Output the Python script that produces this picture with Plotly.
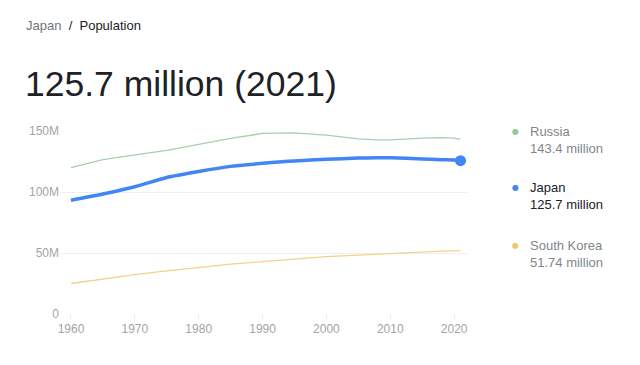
import plotly.graph_objects as go

years = [1960, 1965, 1970, 1975, 1980, 1985, 1990, 1993, 1995, 2000, 2005, 2008, 2010, 2015, 2018, 2020, 2021]
russia = [119.9, 126.5, 130.4, 134.2, 139.0, 143.9, 148.0, 148.5, 148.4, 146.6, 143.5, 142.7, 142.8, 144.1, 144.5, 144.1, 143.4]
japan = [93.2, 98.3, 104.3, 111.9, 116.8, 121.0, 123.5, 124.8, 125.4, 126.8, 127.8, 128.1, 128.1, 127.1, 126.5, 126.3, 125.7]
korea = [25.0, 28.7, 32.2, 35.3, 38.1, 40.8, 42.9, 44.2, 45.1, 47.0, 48.2, 49.1, 49.6, 51.0, 51.6, 51.8, 51.74]

xticks = [1960, 1970, 1980, 1990, 2000, 2010, 2020]
yticks = [0, 50e6, 100e6, 150e6]
ytick_labels = ["0", "50M", "100M", "150M"]

legend_names = ["Russia", "Japan", "South Korea"]
legend_values = ["143.4 million", "125.7 million", "51.74 million"]

FONT = "Liberation Sans"
OFF = 8  # page body margin
W, H = 640 - OFF, 365 - OFF
L, R, T, B = 60 - OFF, 468 - OFF, 131 - OFF, 314 - OFF

def px(p):
    return (p - OFF - L) / (R - L)

def py(q):
    return (B - (q - OFF)) / (B - T)

fig = go.Figure()
fig.add_trace(go.Scatter(x=years, y=[v * 1e6 for v in russia], mode="lines",
                         line=dict(color="#a6cfae", width=1.3), hoverinfo="skip"))
fig.add_trace(go.Scatter(x=years, y=[v * 1e6 for v in korea], mode="lines",
                         line=dict(color="#f3d18c", width=1.3), hoverinfo="skip"))
fig.add_trace(go.Scatter(x=years, y=[v * 1e6 for v in japan], mode="lines",
                         line=dict(color="#4285f4", width=3.5, shape="spline", smoothing=0.6), hoverinfo="skip"))
fig.add_trace(go.Scatter(x=[years[-1]], y=[japan[-1] * 1e6], mode="markers",
                         marker=dict(color="#4285f4", size=11), cliponaxis=False, hoverinfo="skip"))

fig.update_layout(
    width=W, height=H,
    margin=dict(l=L, r=W - R, t=T, b=H - B, pad=0),
    paper_bgcolor="white", plot_bgcolor="white",
    showlegend=False,
    font=dict(family=FONT),
    xaxis=dict(range=[1958.28, 2022.17], tickvals=xticks, ticktext=[str(v) for v in xticks],
               showgrid=False, zeroline=False, showline=False,
               ticks="outside", ticklen=4, tickcolor="#e8e8e8",
               tickfont=dict(size=12, color="#a4a4a4", family=FONT)),
    yaxis=dict(range=[0, 150e6], tickvals=yticks, ticktext=ytick_labels,
               showgrid=True, gridcolor="#efefef", gridwidth=1, zeroline=False, showline=False,
               ticks="", tickfont=dict(size=12, color="#a4a4a4", family=FONT)),
)

ann = []
ann.append(dict(x=px(24), y=py(25), xref="paper", yref="paper", xanchor="left", yanchor="middle",
                text="<span style='color:#70757a'>Japan</span><span style='color:#202124'>  /  Population</span>",
                showarrow=False, font=dict(size=13, family=FONT)))
ann.append(dict(x=px(23), y=py(84), xref="paper", yref="paper", xanchor="left", yanchor="middle",
                text="125.7 million (2021)", showarrow=False,
                font=dict(size=35.5, color="#202124", family=FONT)))

legend_y = [131, 187, 245]
dot_colors = ["#8dc99b", "#4285f4", "#f0c96e"]
name_colors = ["#80868b", "#202124", "#80868b"]
for i in range(3):
    yy = legend_y[i]
    ann.append(dict(x=px(515), y=py(yy), xref="paper", yref="paper", xanchor="center", yanchor="middle",
                    text="●", showarrow=False, font=dict(size=8, color=dot_colors[i], family="DejaVu Sans")))
    ann.append(dict(x=px(528), y=py(yy), xref="paper", yref="paper", xanchor="left", yanchor="middle",
                    text=legend_names[i], showarrow=False, font=dict(size=13, color=name_colors[i], family=FONT)))
    ann.append(dict(x=px(528), y=py(yy + 17), xref="paper", yref="paper", xanchor="left", yanchor="middle",
                    text=legend_values[i], showarrow=False, font=dict(size=13, color=name_colors[i], family=FONT)))
fig.update_layout(annotations=ann)

fig.write_html("out.html")
